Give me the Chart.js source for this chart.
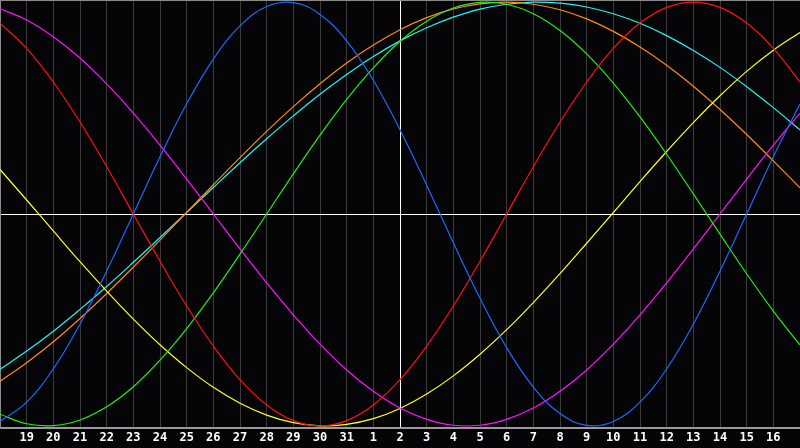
<!DOCTYPE html>
<html><head><meta charset="utf-8">
<script src="https://cdn.jsdelivr.net/npm/chart.js@4"></script>
<style>html,body{margin:0;padding:0;background:#050508;overflow:hidden}canvas{display:block}</style>
</head><body><canvas id="c" width="800" height="448"></canvas>
<script>
// day-of-month labels (first and last are plot edges, not labelled)
const days = [18,19,20,21,22,23,24,25,26,27,28,29,30,31,1,2,3,4,5,6,7,8,9,10,11,12,13,14,15,16,17];
const todayIndex = 15; // day "2"

const physical     = [-0.979,-0.888,-0.731,-0.520,-0.270,0,0.270,0.520,0.731,0.888,0.979,0.998,0.942,0.817,0.631,0.398,0.136,-0.136,-0.398,-0.631,-0.817,-0.942,-0.998,-0.979,-0.888,-0.731,-0.520,-0.270,0,0.270,0.520];
const emotional    = [0.901,0.782,0.623,0.434,0.223,0,-0.223,-0.434,-0.623,-0.782,-0.901,-0.975,-1.000,-0.975,-0.901,-0.782,-0.623,-0.434,-0.223,0,0.223,0.434,0.623,0.782,0.901,0.975,1.000,0.975,0.901,0.782,0.623];
const intellectual = [-0.945,-0.990,-0.999,-0.972,-0.910,-0.815,-0.690,-0.541,-0.372,-0.189,0,0.189,0.372,0.541,0.690,0.815,0.910,0.972,0.999,0.990,0.945,0.866,0.756,0.618,0.458,0.282,0.095,-0.095,-0.282,-0.458,-0.618];
const intuitive    = [0.969,0.916,0.837,0.736,0.614,0.476,0.325,0.165,0,-0.165,-0.325,-0.476,-0.614,-0.736,-0.837,-0.916,-0.969,-0.997,-0.997,-0.969,-0.916,-0.837,-0.736,-0.614,-0.476,-0.325,-0.165,0,0.165,0.325,0.476];
const aesthetic    = [0.210,0.066,-0.080,-0.225,-0.364,-0.496,-0.617,-0.725,-0.818,-0.893,-0.949,-0.985,-1.000,-0.993,-0.966,-0.918,-0.850,-0.764,-0.662,-0.546,-0.418,-0.281,-0.138,0.007,0.153,0.295,0.431,0.558,0.673,0.773,0.857];
const awareness    = [-0.789,-0.702,-0.603,-0.493,-0.375,-0.251,-0.123,0.008,0.138,0.266,0.390,0.507,0.615,0.713,0.798,0.870,0.927,0.968,0.992,1.000,0.990,0.964,0.921,0.862,0.788,0.702,0.603,0.493,0.375,0.251,0.123];
const spiritual    = [-0.733,-0.647,-0.553,-0.450,-0.342,-0.228,-0.111,0.007,0.125,0.242,0.355,0.463,0.565,0.658,0.743,0.817,0.879,0.929,0.967,0.990,1.000,0.995,0.977,0.945,0.900,0.842,0.772,0.692,0.601,0.502,0.397];

const yLimit = 1.01;

const mk = (data, color) => ({data, borderColor: color, borderWidth: 1.2, pointRadius: 0, pointHoverRadius: 0, tension: 0.4, fill: false});

new Chart(document.getElementById('c'), {
  type: 'line',
  data: {
    labels: days.map(String),
    datasets: [
      mk(physical, '#1a6aff'),
      mk(emotional, '#ff1010'),
      mk(intellectual, '#22ee11'),
      mk(intuitive, '#ff11ff'),
      mk(aesthetic, '#ffff22'),
      mk(awareness, '#ff8a11'),
      mk(spiritual, '#22f4f4')
    ]
  },
  options: {
    responsive: false,
    animation: false,
    events: [],
    layout: {padding: 0, autoPadding: false},
    plugins: {legend: {display: false}, tooltip: {enabled: false}},
    scales: {
      x: {
        offset: false,
        afterFit: s => { s.height = 20; s.paddingLeft = 0; s.paddingRight = 0; },
        grid: {
          drawTicks: false,
          lineWidth: 1,
          color: c => c.index === todayIndex ? '#ffffff' : (c.index === 0 || c.index === days.length - 1 ? 'rgba(0,0,0,0)' : '#3a3a3a')
        },
        border: {display: true, color: '#9a9a9a', width: 2},
        ticks: {
          autoSkip: false, maxRotation: 0, minRotation: 0, padding: 3,
          color: '#ffffff',
          font: {family: 'DejaVu Sans Mono', size: 12, weight: 'bold'},
          callback: (v, i) => (i === 0 || i === days.length - 1) ? '' : days[i]
        }
      },
      y: {
        min: -yLimit, max: yLimit,
        afterFit: s => { s.width = 0; },
        afterBuildTicks: s => { s.ticks = [{value: -yLimit}, {value: 0}, {value: yLimit}]; },
        grid: {
          drawTicks: false,
          lineWidth: c => c.tick && c.tick.value === yLimit ? 2 : 1,
          color: c => c.tick && c.tick.value === 0 ? '#ffffff' : (c.tick && c.tick.value === yLimit ? '#8a8a8a' : 'rgba(0,0,0,0)')
        },
        border: {display: true, color: '#8a8a8a', width: 2},
        ticks: {display: false}
      }
    }
  }
});
</script>
</body></html>
